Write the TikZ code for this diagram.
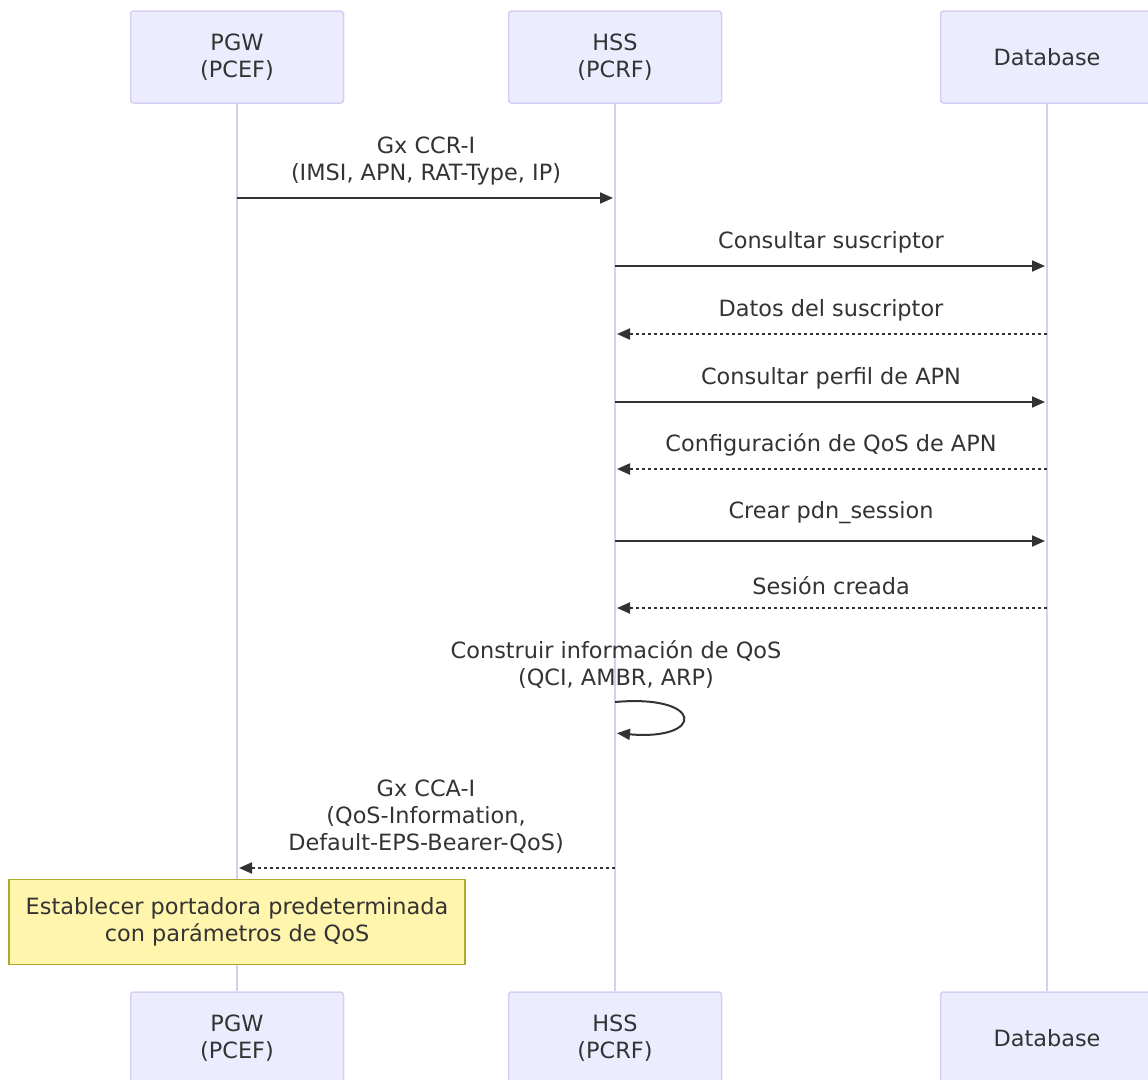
\documentclass[tikz,border=0pt]{standalone}
\usepackage{fontspec}
\setmainfont{DejaVu Sans}
\usetikzlibrary{arrows.meta}
\definecolor{actorfill}{HTML}{ECECFF}
\definecolor{actorline}{HTML}{D8CEF4}
\definecolor{txt}{HTML}{333333}
\definecolor{notefill}{HTML}{FFF5AD}
\definecolor{noteline}{HTML}{AAAA33}
\begin{document}
\begin{tikzpicture}[x=1pt,y=-1pt,
    every node/.style={font=\fontsize{22.4}{27}\selectfont, text=txt},
    actor/.style={draw=actorline, fill=actorfill, line width=1.5pt, rounded corners=3pt,
      minimum width=213pt, minimum height=92pt, align=center},
    lbl/.style={align=center, inner sep=0pt},
    msg/.style={draw=txt, line width=2pt, shorten >=2pt, -{Triangle[length=13pt,width=11pt]}},
    reply/.style={msg, dash pattern=on 3pt off 3pt},
    lifeline/.style={draw=actorline, line width=1.5pt}]
    \useasboundingbox (0,0) rectangle (1148,1079);
    \node[actor] (pgw) at (237,57) {PGW\\(PCEF)};
    \node[actor] (hss) at (615,57) {HSS\\(PCRF)};
    \node[actor] (db) at (1047,57) {Database};
    \node[actor] (pgw2) at (237,1038) {PGW\\(PCEF)};
    \node[actor] (hss2) at (615,1038) {HSS\\(PCRF)};
    \node[actor] (db2) at (1047,1038) {Database};
    \draw[lifeline] (pgw.south) -- (pgw2.north);
    \draw[lifeline] (hss.south) -- (hss2.north);
    \draw[lifeline] (db.south) -- (db2.north);
    % messages
    \node[lbl] (ccr) at (426,161) {Gx CCR-I\\(IMSI, APN, RAT-Type, IP)};
    \draw[msg] (pgw.south |- 0,198) -- (hss.south |- 0,198);
    \node[lbl] (qsub) at (831,242) {Consultar suscriptor};
    \draw[msg] (hss.south |- 0,266) -- (db.south |- 0,266);
    \node[lbl] (dsub) at (831,310) {Datos del suscriptor};
    \draw[reply] (db.south |- 0,334) -- (hss.south |- 0,334);
    \node[lbl] (qapn) at (831,378) {Consultar perfil de APN};
    \draw[msg] (hss.south |- 0,402) -- (db.south |- 0,402);
    \node[lbl] (capn) at (831,445) {Configuración de QoS de APN};
    \draw[reply] (db.south |- 0,469) -- (hss.south |- 0,469);
    \node[lbl] (mkpdn) at (831,513) {Crear pdn\_session};
    \draw[msg] (hss.south |- 0,541) -- (db.south |- 0,541);
    \node[lbl] (okpdn) at (831,586) {Sesión creada};
    \draw[reply] (db.south |- 0,608) -- (hss.south |- 0,608);
    \node[lbl] (qos) at (616,665) {Construir información de QoS\\(QCI, AMBR, ARP)};
    \draw[msg] (hss.south |- 0,702) .. controls (705,694) and (705,741) .. (hss.south |- 0,733);
    \node[lbl] (cca) at (426,817) {Gx CCA-I\\(QoS-Information,\\Default-EPS-Bearer-QoS)};
    \draw[reply] (hss.south |- 0,868) -- (pgw.south |- 0,868);
    \node[draw=noteline, fill=notefill, line width=1.5pt, minimum width=456pt, minimum height=85pt,
      align=center] (note) at (237,922) {Establecer portadora predeterminada\\con parámetros de QoS};
\end{tikzpicture}
\end{document}
